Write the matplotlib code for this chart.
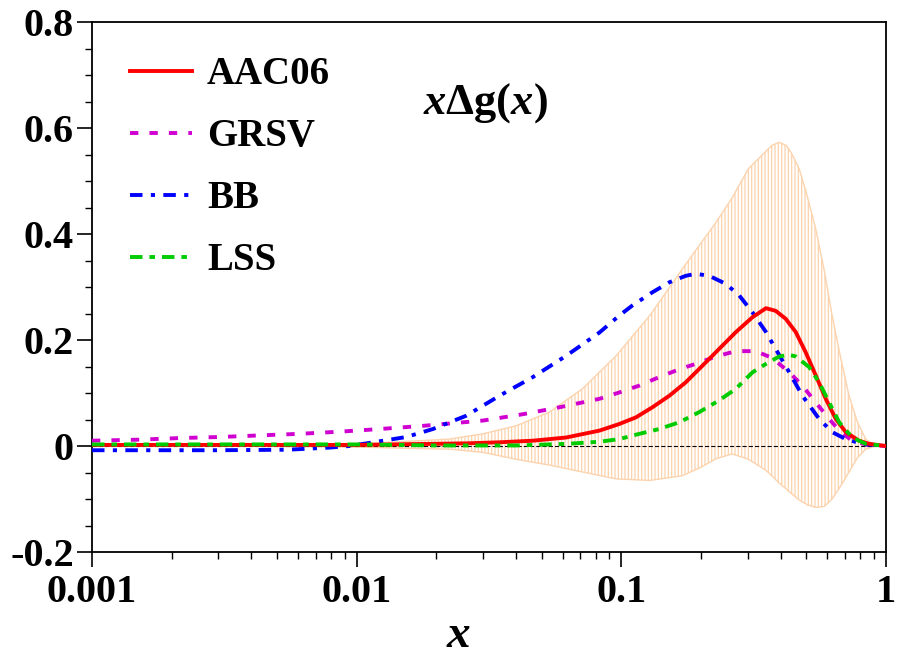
import matplotlib
matplotlib.use("Agg")
import matplotlib.pyplot as plt
from matplotlib.ticker import FixedLocator, LogLocator, NullFormatter, FixedFormatter

# x * Delta g(x)
RED_X = [0.001, 0.005, 0.01, 0.026, 0.0347, 0.0463, 0.0618, 0.0826, 0.0982, 0.1135,
         0.131, 0.152, 0.175, 0.203, 0.234, 0.271, 0.313, 0.352, 0.383, 0.418,
         0.456, 0.497, 0.543, 0.592, 0.646, 0.705, 0.791, 0.863, 1.0]
RED_Y = [0.002, 0.002, 0.002, 0.005, 0.007, 0.010, 0.016, 0.029, 0.0415, 0.054,
         0.073, 0.095, 0.120, 0.152, 0.183, 0.215, 0.243, 0.260, 0.255, 0.240,
         0.215, 0.177, 0.133, 0.089, 0.051, 0.026, 0.010, 0.004, 0.0]

GRSV_X = [0.001, 0.00152, 0.00215, 0.00304, 0.0043, 0.0061, 0.0086, 0.0122, 0.0178,
          0.030, 0.0425, 0.0583, 0.0826, 0.0982, 0.117, 0.139, 0.166, 0.191, 0.228,
          0.271, 0.322, 0.372, 0.431, 0.483, 0.543, 0.610, 0.675, 0.746, 0.85, 1.0]
GRSV_Y = [0.010, 0.012, 0.015, 0.017, 0.020, 0.023, 0.027, 0.032, 0.038,
          0.048, 0.060, 0.073, 0.089, 0.101, 0.114, 0.130, 0.145, 0.155, 0.169,
          0.179, 0.179, 0.166, 0.139, 0.114, 0.082, 0.051, 0.026, 0.010, 0.002, 0.0]

BB_X = [0.001, 0.003, 0.0055, 0.0079, 0.0094, 0.0119, 0.0154, 0.0194, 0.0259, 0.0347,
        0.0463, 0.0618, 0.0826, 0.0982, 0.110, 0.131, 0.152, 0.175, 0.191, 0.215,
        0.248, 0.279, 0.313, 0.352, 0.383, 0.431, 0.483, 0.559, 0.627, 0.705, 0.815, 1.0]
BB_Y = [-0.008, -0.008, -0.007, -0.003, 0.0, 0.008, 0.017, 0.032, 0.057, 0.095,
        0.130, 0.170, 0.214, 0.246, 0.265, 0.290, 0.309, 0.321, 0.325, 0.321,
        0.306, 0.284, 0.252, 0.215, 0.183, 0.139, 0.095, 0.051, 0.026, 0.013, 0.004, 0.0]

LSS_X = [0.001, 0.01, 0.02, 0.04, 0.0618, 0.0826, 0.0982, 0.117, 0.139, 0.166, 0.197,
         0.234, 0.271, 0.313, 0.352, 0.395, 0.43, 0.456, 0.512, 0.559, 0.610, 0.665,
         0.746, 0.838, 1.0]
LSS_Y = [0.003, 0.003, 0.001, 0.001, 0.004, 0.008, 0.013, 0.023, 0.032, 0.045, 0.064,
         0.086, 0.108, 0.139, 0.155, 0.169, 0.172, 0.169, 0.149, 0.120, 0.082, 0.045,
         0.016, 0.004, 0.0]

# AAC06 uncertainty band
BAND_X = [0.005, 0.01, 0.0145, 0.0224, 0.030, 0.040, 0.0535, 0.0713, 0.0955, 0.128,
          0.170, 0.2, 0.228, 0.262, 0.302, 0.35, 0.37, 0.395, 0.42, 0.44,
          0.47, 0.505, 0.543, 0.585, 0.626, 0.675, 0.725, 0.78, 0.838, 0.9]
BAND_HI = [0.001, 0.004, 0.008, 0.013, 0.023, 0.038, 0.064, 0.108, 0.170, 0.246,
           0.334, 0.383, 0.422, 0.468, 0.523, 0.555, 0.567, 0.573, 0.567, 0.552,
           0.523, 0.470, 0.409, 0.330, 0.246, 0.165, 0.095, 0.045, 0.013, 0.002]
BAND_LO = [-0.001, -0.002, -0.004, -0.006, -0.012, -0.025, -0.036, -0.049, -0.062, -0.065,
           -0.056, -0.040, -0.024, -0.015, -0.025, -0.045, -0.056, -0.070, -0.081, -0.090,
           -0.102, -0.111, -0.116, -0.114, -0.100, -0.075, -0.049, -0.022, -0.006, -0.001]

X_TICKS = [0.001, 0.01, 0.1, 1]
X_LABELS = ["0.001", "0.01", "0.1", "1"]
Y_TICKS = [-0.2, 0, 0.2, 0.4, 0.6, 0.8]
Y_LABELS = ["-0.2", "0", "0.2", "0.4", "0.6", "0.8"]

plt.rcParams["font.family"] = ["Liberation Serif", "DejaVu Serif"]
plt.rcParams["font.weight"] = "bold"
plt.rcParams["mathtext.fontset"] = "custom"
plt.rcParams["mathtext.rm"] = "Liberation Serif:weight=bold"
plt.rcParams["mathtext.it"] = "Liberation Serif:style=italic:weight=bold"
plt.rcParams["mathtext.bf"] = "Liberation Serif:weight=bold"
plt.rcParams["lines.scale_dashes"] = False
plt.rcParams["hatch.linewidth"] = 0.9
plt.rcParams["hatch.color"] = "#fdd3ad"

fig = plt.figure(figsize=(8.97, 6.59), dpi=100)
ax = fig.add_axes([92 / 897, 107 / 659, 794 / 897, 530 / 659])

ax.fill_between(BAND_X, BAND_LO, BAND_HI, facecolor="none", edgecolor="#fdd3ad",
                hatch="|||||", linewidth=1.0, zorder=1)
ax.axhline(0, color="black", linewidth=0.8, linestyle=(0, (3, 1.5)), zorder=2)

lw = 2.8
ax.plot(GRSV_X, GRSV_Y, color="#d000d0", linewidth=lw, dashes=(6, 8),
        label="GRSV", zorder=3)
ax.plot(BB_X, BB_Y, color="#0000ff", linewidth=lw, dashes=(9, 6, 3, 6),
        label="BB", zorder=3)
ax.plot(RED_X, RED_Y, color="#ff0000", linewidth=lw, label="AAC06", zorder=4)
ax.plot(LSS_X, LSS_Y, color="#00cc00", linewidth=lw, dashes=(9, 5, 4, 5),
        label="LSS", zorder=5)

ax.set_xscale("log")
ax.set_xlim(0.001, 1)
ax.set_ylim(-0.2, 0.8)

ax.xaxis.set_major_locator(FixedLocator(X_TICKS))
ax.xaxis.set_major_formatter(FixedFormatter(X_LABELS))
ax.xaxis.set_minor_locator(LogLocator(base=10, subs=range(2, 10)))
ax.xaxis.set_minor_formatter(NullFormatter())
ax.yaxis.set_major_locator(FixedLocator(Y_TICKS))
ax.yaxis.set_major_formatter(FixedFormatter(Y_LABELS))
ax.yaxis.set_minor_locator(FixedLocator([v / 100 for v in range(-20, 81, 5)]))

ax.tick_params(which="major", direction="out", length=11, width=1.2,
               labelsize=29, top=False, right=False)
ax.tick_params(which="minor", direction="out", length=5, width=1.0,
               top=False, right=False)
ax.tick_params(axis="x", which="major", pad=5)
ax.tick_params(axis="y", which="major", pad=2)
for lab in ax.get_xticklabels() + ax.get_yticklabels():
    lab.set_fontweight("bold")
for sp in ax.spines.values():
    sp.set_linewidth(1.3)

handles, labels = ax.get_legend_handles_labels()
order = [labels.index(n) for n in ["AAC06", "GRSV", "BB", "LSS"]]
leg = ax.legend([handles[i] for i in order], [labels[i] for i in order],
                loc="upper left", bbox_to_anchor=(0.048, 0.935), frameon=False,
                prop={"size": 28, "weight": "bold"}, handlelength=1.6,
                handletextpad=0.38, labelspacing=0.64, borderpad=0, borderaxespad=0)

ax.text(0.495, 0.828, r"$x\Delta\mathrm{g}(x)$", transform=ax.transAxes,
        fontsize=32, ha="center", va="baseline")
ax.text(0.461, -0.180, r"$x$", transform=ax.transAxes, fontsize=34,
        ha="center", va="baseline")

fig.savefig("out.png", dpi=100)
